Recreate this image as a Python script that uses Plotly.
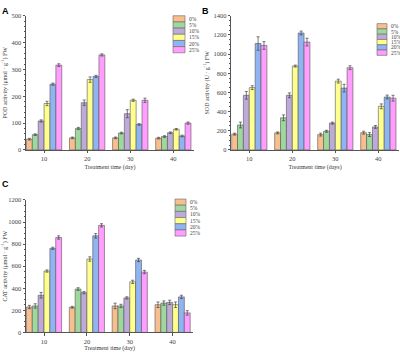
import plotly.graph_objects as go

days = ["10", "20", "30", "40"]
levels = ["0%", "5%", "10%", "15%", "20%", "25%"]
colors = ["#F7BE8E", "#9FD89C", "#BDAAD8", "#FFFF8E", "#90B3F2", "#FF9EFF"]

pod = {
    "0%": [40, 45, 45, 44], "5%": [57, 80, 63, 50], "10%": [108, 176, 135, 64],
    "15%": [173, 262, 185, 77], "20%": [245, 274, 95, 52], "25%": [316, 354, 185, 100],
}
pod_err = {
    "0%": [3, 3, 3, 3], "5%": [3, 4, 3, 3], "10%": [4, 10, 15, 3],
    "15%": [8, 10, 4, 3], "20%": [4, 4, 3, 3], "25%": [5, 4, 8, 4],
}
sod = {
    "0%": [165, 178, 160, 180], "5%": [260, 335, 195, 160], "10%": [570, 570, 280, 240],
    "15%": [650, 875, 718, 455], "20%": [1110, 1220, 645, 552], "25%": [1090, 1125, 858, 540],
}
sod_err = {
    "0%": [10, 10, 15, 15], "5%": [30, 30, 10, 20], "10%": [40, 25, 10, 15],
    "15%": [20, 10, 20, 25], "20%": [70, 20, 40, 20], "25%": [40, 40, 20, 30],
}
cat = {
    "0%": [230, 228, 240, 251], "5%": [240, 393, 240, 266], "10%": [337, 360, 313, 272],
    "15%": [556, 665, 458, 251], "20%": [762, 875, 656, 322], "25%": [860, 970, 547, 177],
}
cat_err = {
    "0%": [15, 8, 25, 25], "5%": [20, 12, 15, 20], "10%": [25, 10, 10, 20],
    "15%": [10, 20, 15, 25], "20%": [10, 20, 15, 15], "25%": [15, 15, 15, 20],
}

W, H = 400, 352
fig = go.Figure()
panels = [
    (pod, pod_err, "x", "y"),
    (sod, sod_err, "x2", "y2"),
    (cat, cat_err, "x3", "y3"),
]
for data, err, xa, ya in panels:
    for lev, col in zip(levels, colors):
        fig.add_trace(go.Bar(
            x=days, y=data[lev], name=lev, xaxis=xa, yaxis=ya, showlegend=False,
            marker=dict(color=col, line=dict(color="#555555", width=0.6)),
            error_y=dict(type="data", array=err[lev], color="#444444", thickness=0.7, width=1.5),
        ))

font = dict(family="Liberation Serif", size=6.5, color="#444444")
tfont = dict(family="Liberation Serif", size=6, color="#333333")
axcommon = dict(showline=True, linecolor="#555555", linewidth=0.8, ticks="outside",
                ticklen=2.5, tickcolor="#555555", tickfont=font, showgrid=False, zeroline=False)
ycommon = dict(axcommon, minor=dict(ticks="outside", ticklen=1.5, tickcolor="#555555"))

# hand-drawn compact legends (swatch boxes + labels), positions in pixels
legend_boxes = [  # (left px, top px, swatch width px, item height px)
    (173, 12, 12, 6.3),
    (377, 20, 10, 5.4),
    (175, 199, 11, 6.3),
]
shapes, annotations = [], []
for lx, ly, sw, ih in legend_boxes:
    for i, (lev, col) in enumerate(zip(levels, colors)):
        y0 = ly + i * ih
        shapes.append(dict(type="rect", xref="paper", yref="paper",
                           x0=lx / W, x1=(lx + sw) / W, y0=1 - (y0 + ih) / H, y1=1 - y0 / H,
                           fillcolor=col, line=dict(color="#666666", width=0.6)))
        annotations.append(dict(text=lev, xref="paper", yref="paper", x=(lx + sw + 1.5) / W,
                                y=1 - (y0 + ih / 2) / H, xanchor="left", yanchor="middle",
                                showarrow=False, font=dict(family="Liberation Serif", size=5.5, color="#444444")))

for txt, x, y in [("A", 0.0, 1.0), ("B", 0.5, 1.0), ("C", 0.0, 0.5)]:
    annotations.append(dict(text="<b>%s</b>" % txt, x=x, y=y, xref="paper", yref="paper",
                            xanchor="left", yanchor="top", showarrow=False,
                            font=dict(family="Liberation Sans", size=9, color="#000")))

fig.update_layout(
    width=W, height=H, margin=dict(l=0, r=0, t=0, b=0),
    paper_bgcolor="white", plot_bgcolor="white",
    barmode="group", bargap=0.18, bargroupgap=0,
    font=font, showlegend=False, hovermode=False,
    xaxis=dict(axcommon, domain=[0.065, 0.485], anchor="y", range=[-0.42, 3.48],
               title=dict(text="Treatment time (day)", font=tfont, standoff=3)),
    yaxis=dict(ycommon, domain=[0.577, 0.966], anchor="x", range=[0, 500], dtick=100,
               title=dict(text="POD activity (μmol · g<sup>-1</sup>) FW", font=tfont, standoff=3)),
    xaxis2=dict(axcommon, domain=[0.578, 0.9975], anchor="y2", range=[-0.42, 3.48],
                title=dict(text="Treatment time (days)", font=tfont, standoff=3)),
    yaxis2=dict(ycommon, domain=[0.577, 0.966], anchor="x2", range=[0, 1400], dtick=200,
                title=dict(text="SOD activity (U · g<sup>-1</sup>) FW", font=tfont, standoff=3)),
    xaxis3=dict(axcommon, domain=[0.065, 0.483], anchor="y3", range=[-0.42, 3.48],
                title=dict(text="Treatment time (day)", font=tfont, standoff=3)),
    yaxis3=dict(ycommon, domain=[0.048, 0.432], anchor="x3", range=[0, 1200], dtick=200,
                title=dict(text="CAT activity (μmol · g<sup>-1</sup>) FW", font=tfont, standoff=3)),
    shapes=shapes, annotations=annotations,
)

fig.write_html("out.html", config={"displayModeBar": False},
               post_script="document.body.style.margin='0';")
